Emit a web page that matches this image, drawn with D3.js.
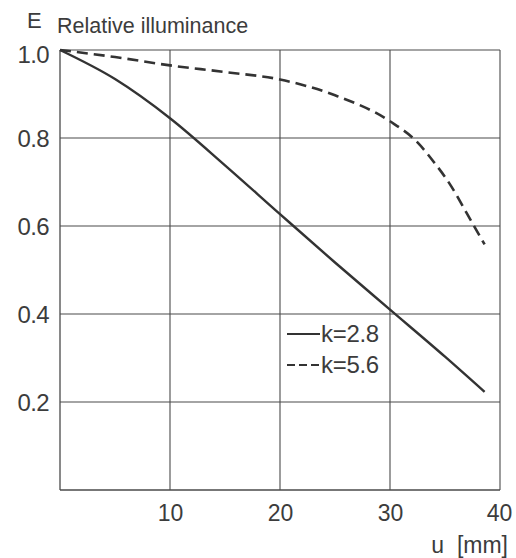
<!DOCTYPE html>
<html><head><meta charset="utf-8">
<script src="https://cdn.jsdelivr.net/npm/d3@7"></script>
<style>
html,body{margin:0;padding:0;background:#fff;}
text{font-family:"Liberation Sans",Arial,Helvetica,sans-serif;fill:#3c3c3c;}
</style></head>
<body>
<svg id="c" width="516" height="558"></svg>
<script>
const xTicks = [10, 20, 30, 40];
const yTicks = [0.2, 0.4, 0.6, 0.8, 1.0];
const yTickLabels = ["0.2", "0.4", "0.6", "0.8", "1.0"];
const seriesNames = ["k=2.8", "k=5.6"];
const solidU = [0, 5, 10, 15, 20, 25, 30, 35, 38.6];
const solidE = [1.0, 0.934, 0.845, 0.738, 0.627, 0.517, 0.41, 0.303, 0.223];
const dashU = [0, 5, 10, 15, 20, 25, 30, 32.5, 34, 35.5, 37, 38.6];
const dashE = [1.0, 0.984, 0.965, 0.95, 0.933, 0.897, 0.838, 0.79, 0.745, 0.693, 0.628, 0.558];

const svg = d3.select("#c");
const x = d3.scaleLinear().domain([0, 40]).range([60, 500]);
const y = d3.scaleLinear().domain([0, 1]).range([490, 50]);

const g = svg.append("g");
g.selectAll(".vx").data(xTicks).join("line")
  .attr("x1", d => x(d)).attr("x2", d => x(d)).attr("y1", y(0)).attr("y2", y(1))
  .attr("stroke", "#4a4a4a").attr("stroke-width", 1.1);
g.selectAll(".hy").data(yTicks).join("line")
  .attr("x1", x(0)).attr("x2", x(40)).attr("y1", d => y(d)).attr("y2", d => y(d))
  .attr("stroke", "#4a4a4a").attr("stroke-width", 1.1);
g.append("line").attr("x1", x(0)).attr("x2", x(0)).attr("y1", y(0)).attr("y2", y(1))
  .attr("stroke", "#4a4a4a").attr("stroke-width", 1.3);
g.append("line").attr("x1", x(0)).attr("x2", x(40)).attr("y1", y(0)).attr("y2", y(0))
  .attr("stroke", "#4a4a4a").attr("stroke-width", 1.3);

const yAxis = svg.append("g").attr("transform", `translate(${x(0)},0)`)
  .call(d3.axisLeft(y).tickValues(yTicks).tickFormat((d, i) => yTickLabels[i]).tickSize(0).tickPadding(11));
yAxis.select(".domain").remove();
yAxis.selectAll("text").attr("font-size", 24).attr("fill", "#3c3c3c")
  .attr("font-family", "Liberation Sans, Arial, sans-serif")
  .attr("dy", (d) => d === 1.0 ? "0.52em" : "0.36em")
  .attr("letter-spacing", -0.6);

const xAxis = svg.append("g").attr("transform", `translate(0,${y(0)})`)
  .call(d3.axisBottom(x).tickValues(xTicks).tickFormat(d3.format("d")).tickSize(0).tickPadding(15));
xAxis.select(".domain").remove();
xAxis.selectAll("text").attr("font-size", 23).attr("fill", "#3c3c3c")
  .attr("font-family", "Liberation Sans, Arial, sans-serif")
  .attr("dy", "0.71em").attr("dx", (d) => d === 40 ? -1 : 0);

svg.append("text").attr("x", 27).attr("y", 28).attr("font-size", 22).text("E");
svg.append("text").attr("x", 57).attr("y", 33).attr("font-size", 21.5).text("Relative illuminance");
svg.append("text").attr("x", 508).attr("y", 553).attr("font-size", 23).attr("text-anchor", "end").attr("xml:space","preserve").text("u  [mm]");

const line = d3.line().x(d => x(d[0])).y(d => y(d[1])).curve(d3.curveMonotoneX);
svg.append("path").datum(solidU.map((u, i) => [u, solidE[i]]))
  .attr("d", line).attr("fill", "none").attr("stroke", "#333").attr("stroke-width", 2.4);
svg.append("path").datum(dashU.map((u, i) => [u, dashE[i]]))
  .attr("d", line).attr("fill", "none").attr("stroke", "#333").attr("stroke-width", 2.6)
  .attr("stroke-dasharray", "11,6");

const lg = svg.append("g");
[0, 1].forEach(i => {
  const yy = 334 + i * 31;
  lg.append("line").attr("x1", 287).attr("x2", 320).attr("y1", yy).attr("y2", yy)
    .attr("stroke", "#333").attr("stroke-width", 2.2)
    .attr("stroke-dasharray", i === 1 ? "8,4" : null);
  lg.append("text").attr("x", 321).attr("y", yy + 8).attr("font-size", 24).attr("letter-spacing", -0.3).text(seriesNames[i]);
});
</script>
</body></html>
